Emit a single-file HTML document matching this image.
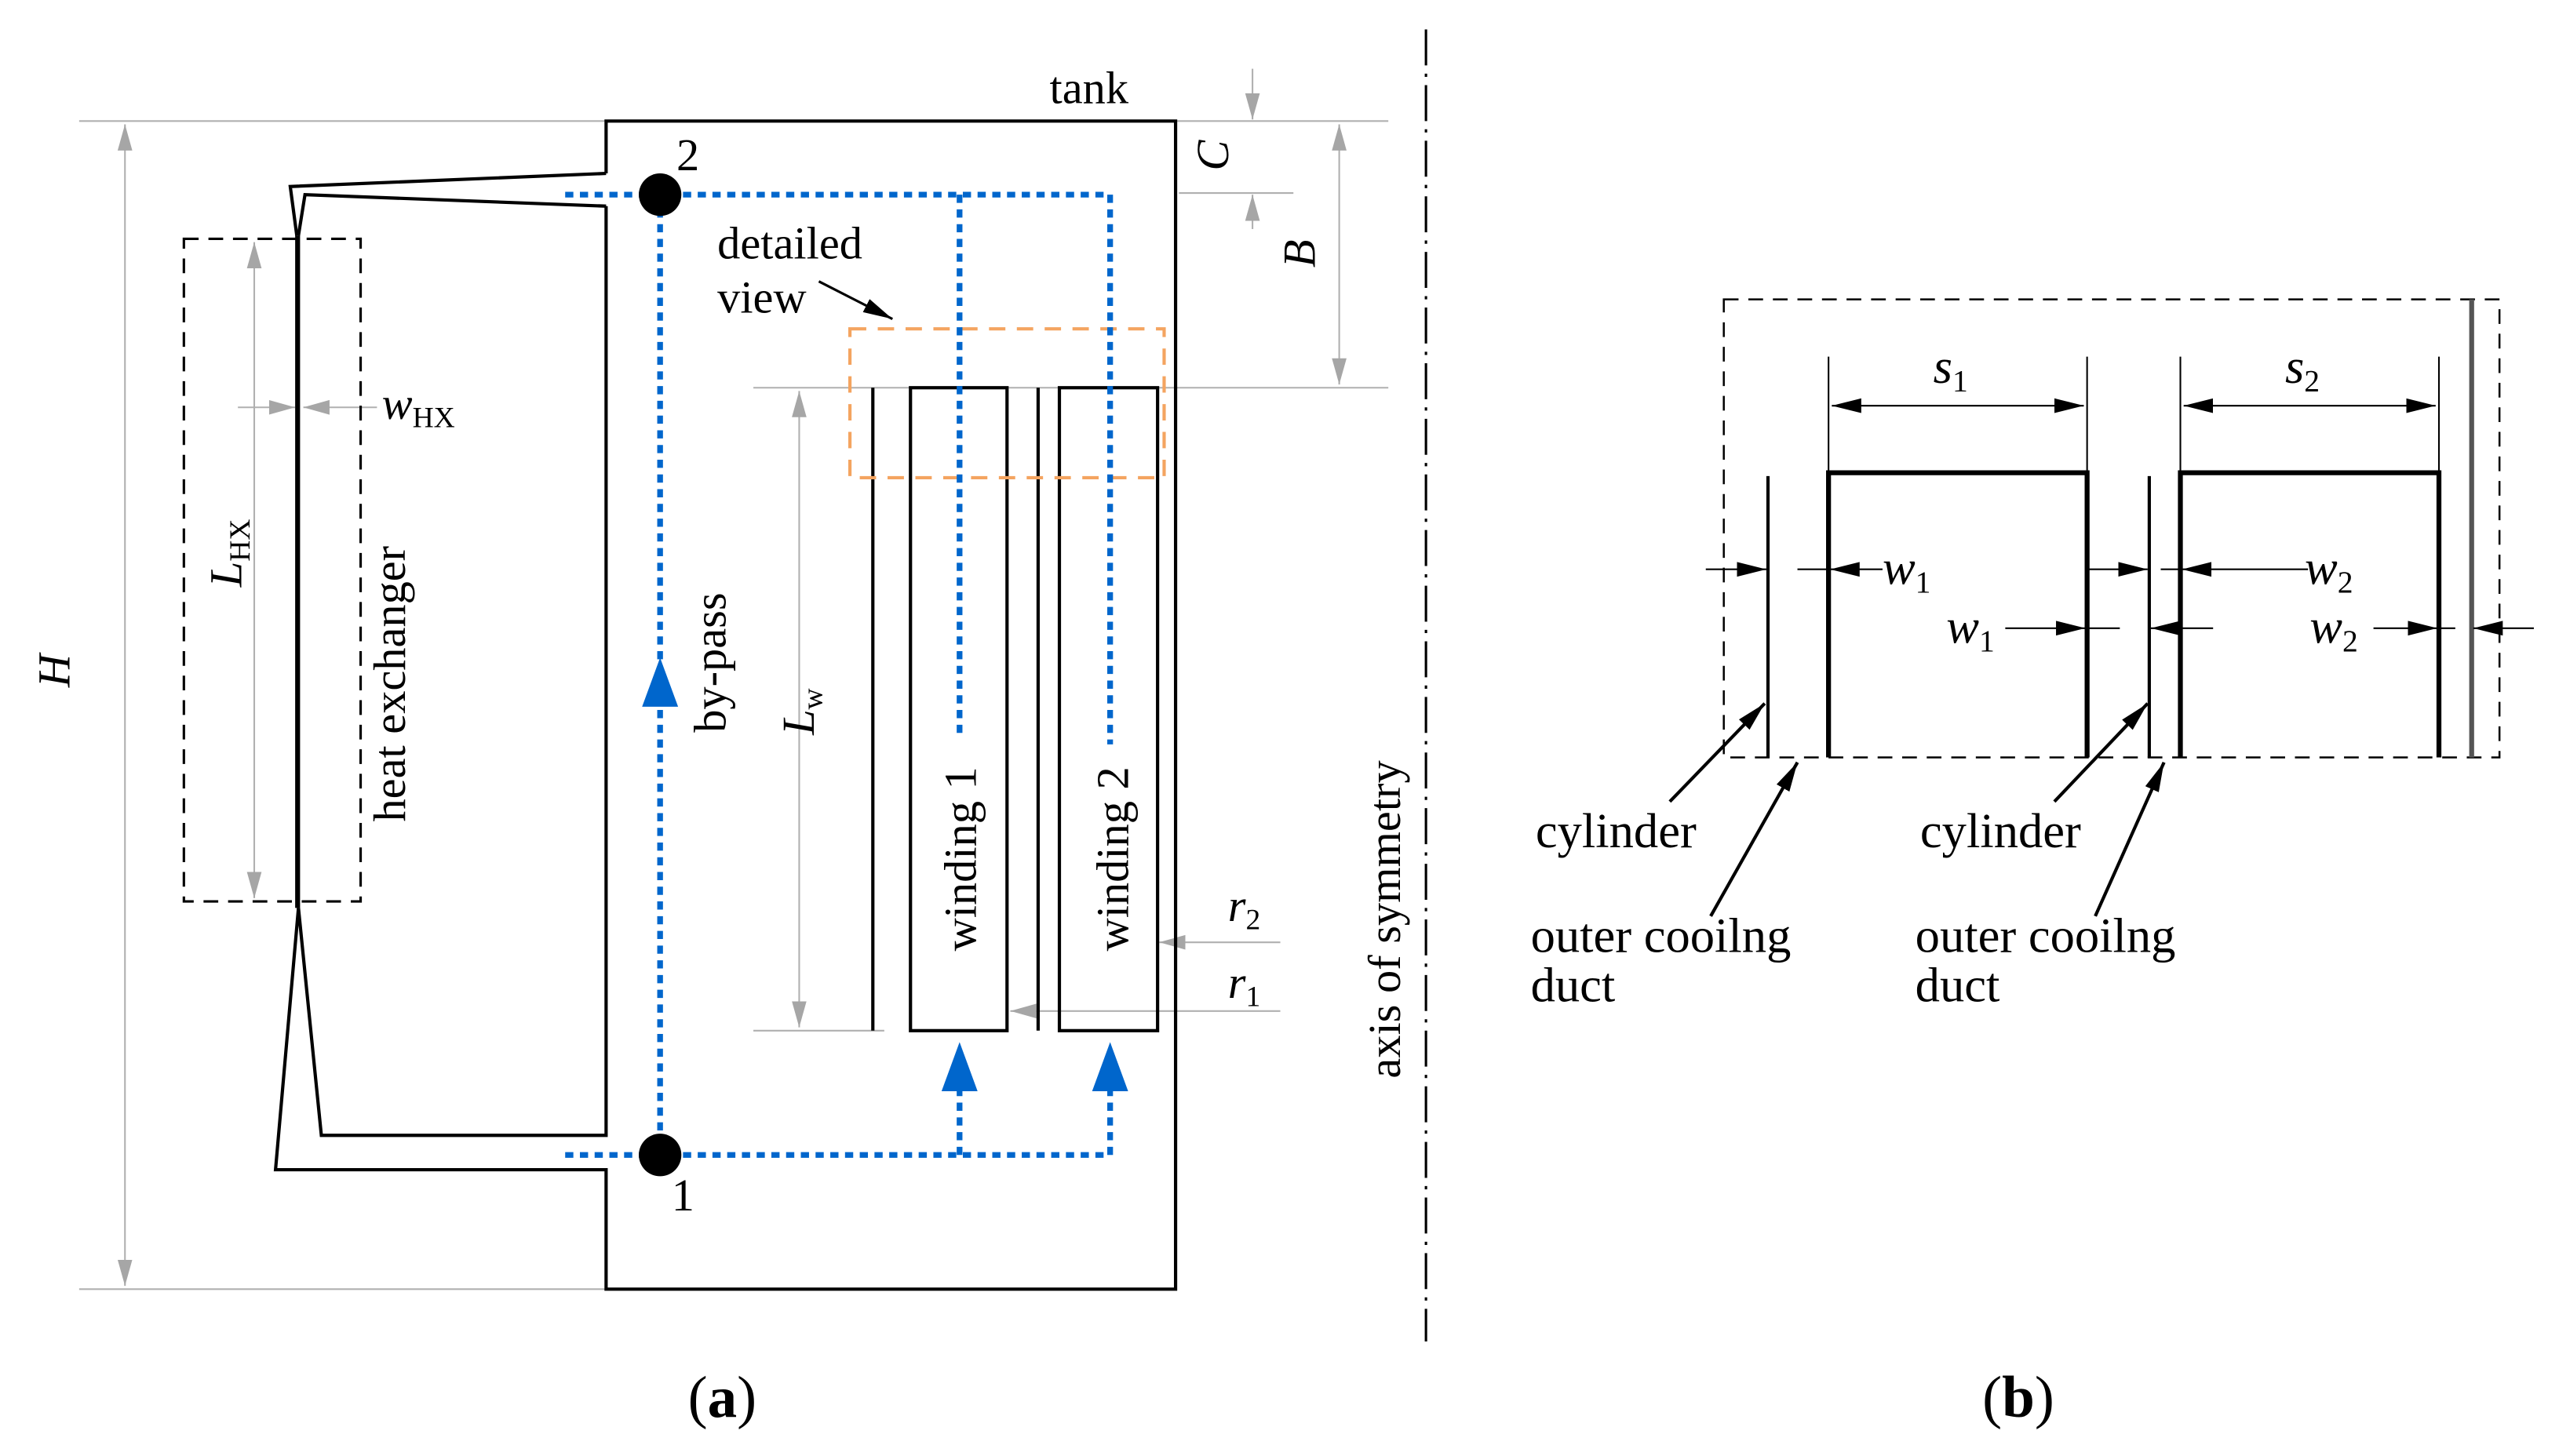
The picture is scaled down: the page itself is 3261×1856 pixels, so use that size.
<!DOCTYPE html>
<html><head><meta charset="utf-8"><style>
html,body{margin:0;padding:0;background:#fff;}
svg{display:block;}
text{font-family:"Liberation Serif",serif;fill:#000;}
</style></head><body>
<svg width="3261" height="1856" viewBox="0 0 1563 890" xmlns="http://www.w3.org/2000/svg">
<defs>
<marker id="gb" viewBox="0 0 10 10" refX="10" refY="5" markerWidth="16" markerHeight="16" markerUnits="userSpaceOnUse" orient="auto-start-reverse"><path d="M0,2.2 L10,5 L0,7.8z" fill="#a6a6a6"/></marker>
<marker id="ka" viewBox="0 0 10 10" refX="10" refY="5" markerWidth="18" markerHeight="18" markerUnits="userSpaceOnUse" orient="auto-start-reverse"><path d="M0,2.5 L10,5 L0,7.5z" fill="#000"/></marker>
</defs>
<g fill="none" stroke="#b0b0b0" stroke-width="1">
<line x1="48" y1="74" x2="848" y2="74"/>
<line x1="48" y1="788" x2="370" y2="788"/>
<line x1="460" y1="237" x2="848" y2="237"/>
<line x1="460" y1="630" x2="540" y2="630"/>
<line x1="720" y1="118" x2="790" y2="118"/>
<line x1="76" y1="76" x2="76" y2="786" marker-start="url(#gb)" marker-end="url(#gb)"/>
<line x1="155" y1="148" x2="155" y2="549" marker-start="url(#gb)" marker-end="url(#gb)"/>
<line x1="145" y1="249" x2="180" y2="249" marker-end="url(#gb)"/>
<line x1="230" y1="249" x2="185" y2="249" marker-end="url(#gb)"/>
<line x1="765" y1="42" x2="765" y2="73" marker-end="url(#gb)"/>
<line x1="765" y1="140" x2="765" y2="119" marker-end="url(#gb)"/>
<line x1="818" y1="76" x2="818" y2="235" marker-start="url(#gb)" marker-end="url(#gb)"/>
<line x1="488" y1="239" x2="488" y2="628" marker-start="url(#gb)" marker-end="url(#gb)"/>
<line x1="782" y1="576" x2="708" y2="576" marker-end="url(#gb)"/>
<line x1="782" y1="618" x2="617" y2="618" marker-end="url(#gb)"/>
</g>
<g fill="none" stroke="#000" stroke-width="2">
<path d="M370,106 L370,74 L718,74 L718,788 L370,788 L370,715 L168,715 L182,555"/>
<path d="M370,106 L177,114 L181,144"/>
<path d="M370,126 L186,119 L182,144"/>
<path d="M370,126 L370,694 L196,694 L182,555"/>
<line x1="181.5" y1="144" x2="181.5" y2="555" stroke-width="3"/>
<rect x="112" y="146" width="108" height="405" stroke-dasharray="9,6" stroke-width="1.5"/>
<line x1="533" y1="237" x2="533" y2="630"/>
<line x1="634" y1="237" x2="634" y2="630"/>
<rect x="556" y="237" width="59" height="393"/>
<rect x="647" y="237" width="60" height="393"/>
<line x1="500" y1="172" x2="545" y2="195" stroke-width="1.5" marker-end="url(#ka)"/>
</g>
<rect x="519" y="201" width="192" height="91" fill="none" stroke="#f4a460" stroke-width="2" stroke-dasharray="10,7"/>
<g fill="none" stroke="#0066cc" stroke-width="3.5" stroke-dasharray="5,4">
<path d="M345,119 L678,119 L678,455"/>
<line x1="586" y1="119" x2="586" y2="450"/>
<line x1="403" y1="119" x2="403" y2="706"/>
<path d="M345,706 L678,706 L678,660"/>
<line x1="586" y1="706" x2="586" y2="660"/>
</g>
<g fill="#0066cc">
<path d="M392,432 L403,402 L414,432z"/>
<path d="M575,667 L586,637 L597,667z"/>
<path d="M667,667 L678,637 L689,667z"/>
</g>
<circle cx="403" cy="119" r="13" fill="#000"/>
<circle cx="403" cy="706" r="13" fill="#000"/>
<line x1="871" y1="18" x2="871" y2="820" stroke="#000" stroke-width="1.5" stroke-dasharray="22,5,2,5"/>
<g font-size="28">
<text x="641" y="63">tank</text>
<text x="413" y="104">2</text>
<text x="410" y="740">1</text>
<text x="438" y="158">detailed</text>
<text x="438" y="191">view</text>
<text transform="translate(247,418) rotate(-90)" text-anchor="middle">heat exchanger</text>
<text transform="translate(443,405) rotate(-90)" text-anchor="middle">by-pass</text>
<text transform="translate(596,525) rotate(-90)" text-anchor="middle">winding 1</text>
<text transform="translate(689,525) rotate(-90)" text-anchor="middle">winding 2</text>
<text transform="translate(855,562) rotate(-90)" text-anchor="middle">axis of symmetry</text>
<text transform="translate(42,410) rotate(-90)" text-anchor="middle" font-style="italic">H</text>
<text transform="translate(750,95) rotate(-90)" text-anchor="middle" font-style="italic">C</text>
<text transform="translate(803,155) rotate(-90)" text-anchor="middle" font-style="italic">B</text>
<text transform="translate(147,338) rotate(-90)" text-anchor="middle"><tspan font-style="italic">L</tspan><tspan font-size="18" dy="5">HX</tspan></text>
<text transform="translate(497,435) rotate(-90)" text-anchor="middle"><tspan font-style="italic">L</tspan><tspan font-size="18" dy="5">w</tspan></text>
<text x="233" y="256"><tspan font-style="italic">w</tspan><tspan font-size="18" dy="5">HX</tspan></text>
<text x="750" y="563"><tspan font-style="italic">r</tspan><tspan font-size="18" dy="5">2</tspan></text>
<text x="750" y="610"><tspan font-style="italic">r</tspan><tspan font-size="18" dy="5">1</tspan></text>
</g>
<text x="441" y="866" font-size="36" text-anchor="middle">(<tspan font-weight="bold">a</tspan>)</text>
<text x="1233" y="866" font-size="36" text-anchor="middle">(<tspan font-weight="bold">b</tspan>)</text>
<rect x="1053" y="183" width="474" height="280" fill="none" stroke="#000" stroke-width="1.2" stroke-dasharray="9,6"/>
<line x1="1510" y1="183" x2="1510" y2="463" stroke="#555" stroke-width="3"/>
<g fill="none" stroke="#000" stroke-width="2">
<line x1="1080" y1="291" x2="1080" y2="463"/>
<line x1="1313" y1="291" x2="1313" y2="463"/>
</g>
<g fill="none" stroke="#000" stroke-width="3">
<path d="M1117,463 L1117,289 L1275,289 L1275,463"/>
<path d="M1332,463 L1332,289 L1490,289 L1490,463"/>
</g>
<g fill="none" stroke="#000" stroke-width="1">
<line x1="1117" y1="218" x2="1117" y2="289"/>
<line x1="1275" y1="218" x2="1275" y2="289"/>
<line x1="1332" y1="218" x2="1332" y2="289"/>
<line x1="1490" y1="218" x2="1490" y2="289"/>
<line x1="1119" y1="248" x2="1273" y2="248" marker-start="url(#ka)" marker-end="url(#ka)"/>
<line x1="1334" y1="248" x2="1488" y2="248" marker-start="url(#ka)" marker-end="url(#ka)"/>
<line x1="1042" y1="348" x2="1079" y2="348" marker-end="url(#ka)"/>
<line x1="1150" y1="348" x2="1118" y2="348" marker-end="url(#ka)"/>
<line x1="1098" y1="348" x2="1118" y2="348"/>
<line x1="1276" y1="348" x2="1312" y2="348" marker-end="url(#ka)"/>
<line x1="1410" y1="348" x2="1333" y2="348" marker-end="url(#ka)"/>
<line x1="1320" y1="348" x2="1333" y2="348"/>
<line x1="1225" y1="384" x2="1274" y2="384" marker-end="url(#ka)"/>
<line x1="1276" y1="384" x2="1295" y2="384"/>
<line x1="1352" y1="384" x2="1314" y2="384" marker-end="url(#ka)"/>
<line x1="1450" y1="384" x2="1489" y2="384" marker-end="url(#ka)"/>
<line x1="1491" y1="384" x2="1500" y2="384"/>
<line x1="1548" y1="384" x2="1511" y2="384" marker-end="url(#ka)"/>
</g>
<g fill="none" stroke="#000" stroke-width="2">
<line x1="1020" y1="490" x2="1078" y2="430" marker-end="url(#ka)"/>
<line x1="1045" y1="560" x2="1098" y2="466" marker-end="url(#ka)"/>
<line x1="1255" y1="490" x2="1312" y2="430" marker-end="url(#ka)"/>
<line x1="1280" y1="560" x2="1322" y2="466" marker-end="url(#ka)"/>
</g>
<g font-size="30">
<text x="1181" y="234" font-style="italic">s<tspan font-size="19" font-style="normal" dy="5">1</tspan></text>
<text x="1396" y="234" font-style="italic">s<tspan font-size="19" font-style="normal" dy="5">2</tspan></text>
<text x="1150" y="357" font-style="italic">w<tspan font-size="19" font-style="normal" dy="5">1</tspan></text>
<text x="1408" y="357" font-style="italic">w<tspan font-size="19" font-style="normal" dy="5">2</tspan></text>
<text x="1189" y="393" font-style="italic">w<tspan font-size="19" font-style="normal" dy="5">1</tspan></text>
<text x="1411" y="393" font-style="italic">w<tspan font-size="19" font-style="normal" dy="5">2</tspan></text>
<text x="938" y="518">cylinder</text>
<text x="1173" y="518">cylinder</text>
<text x="935" y="582">outer cooilng</text>
<text x="935" y="612">duct</text>
<text x="1170" y="582">outer cooilng</text>
<text x="1170" y="612">duct</text>
</g>
</svg>
</body></html>
